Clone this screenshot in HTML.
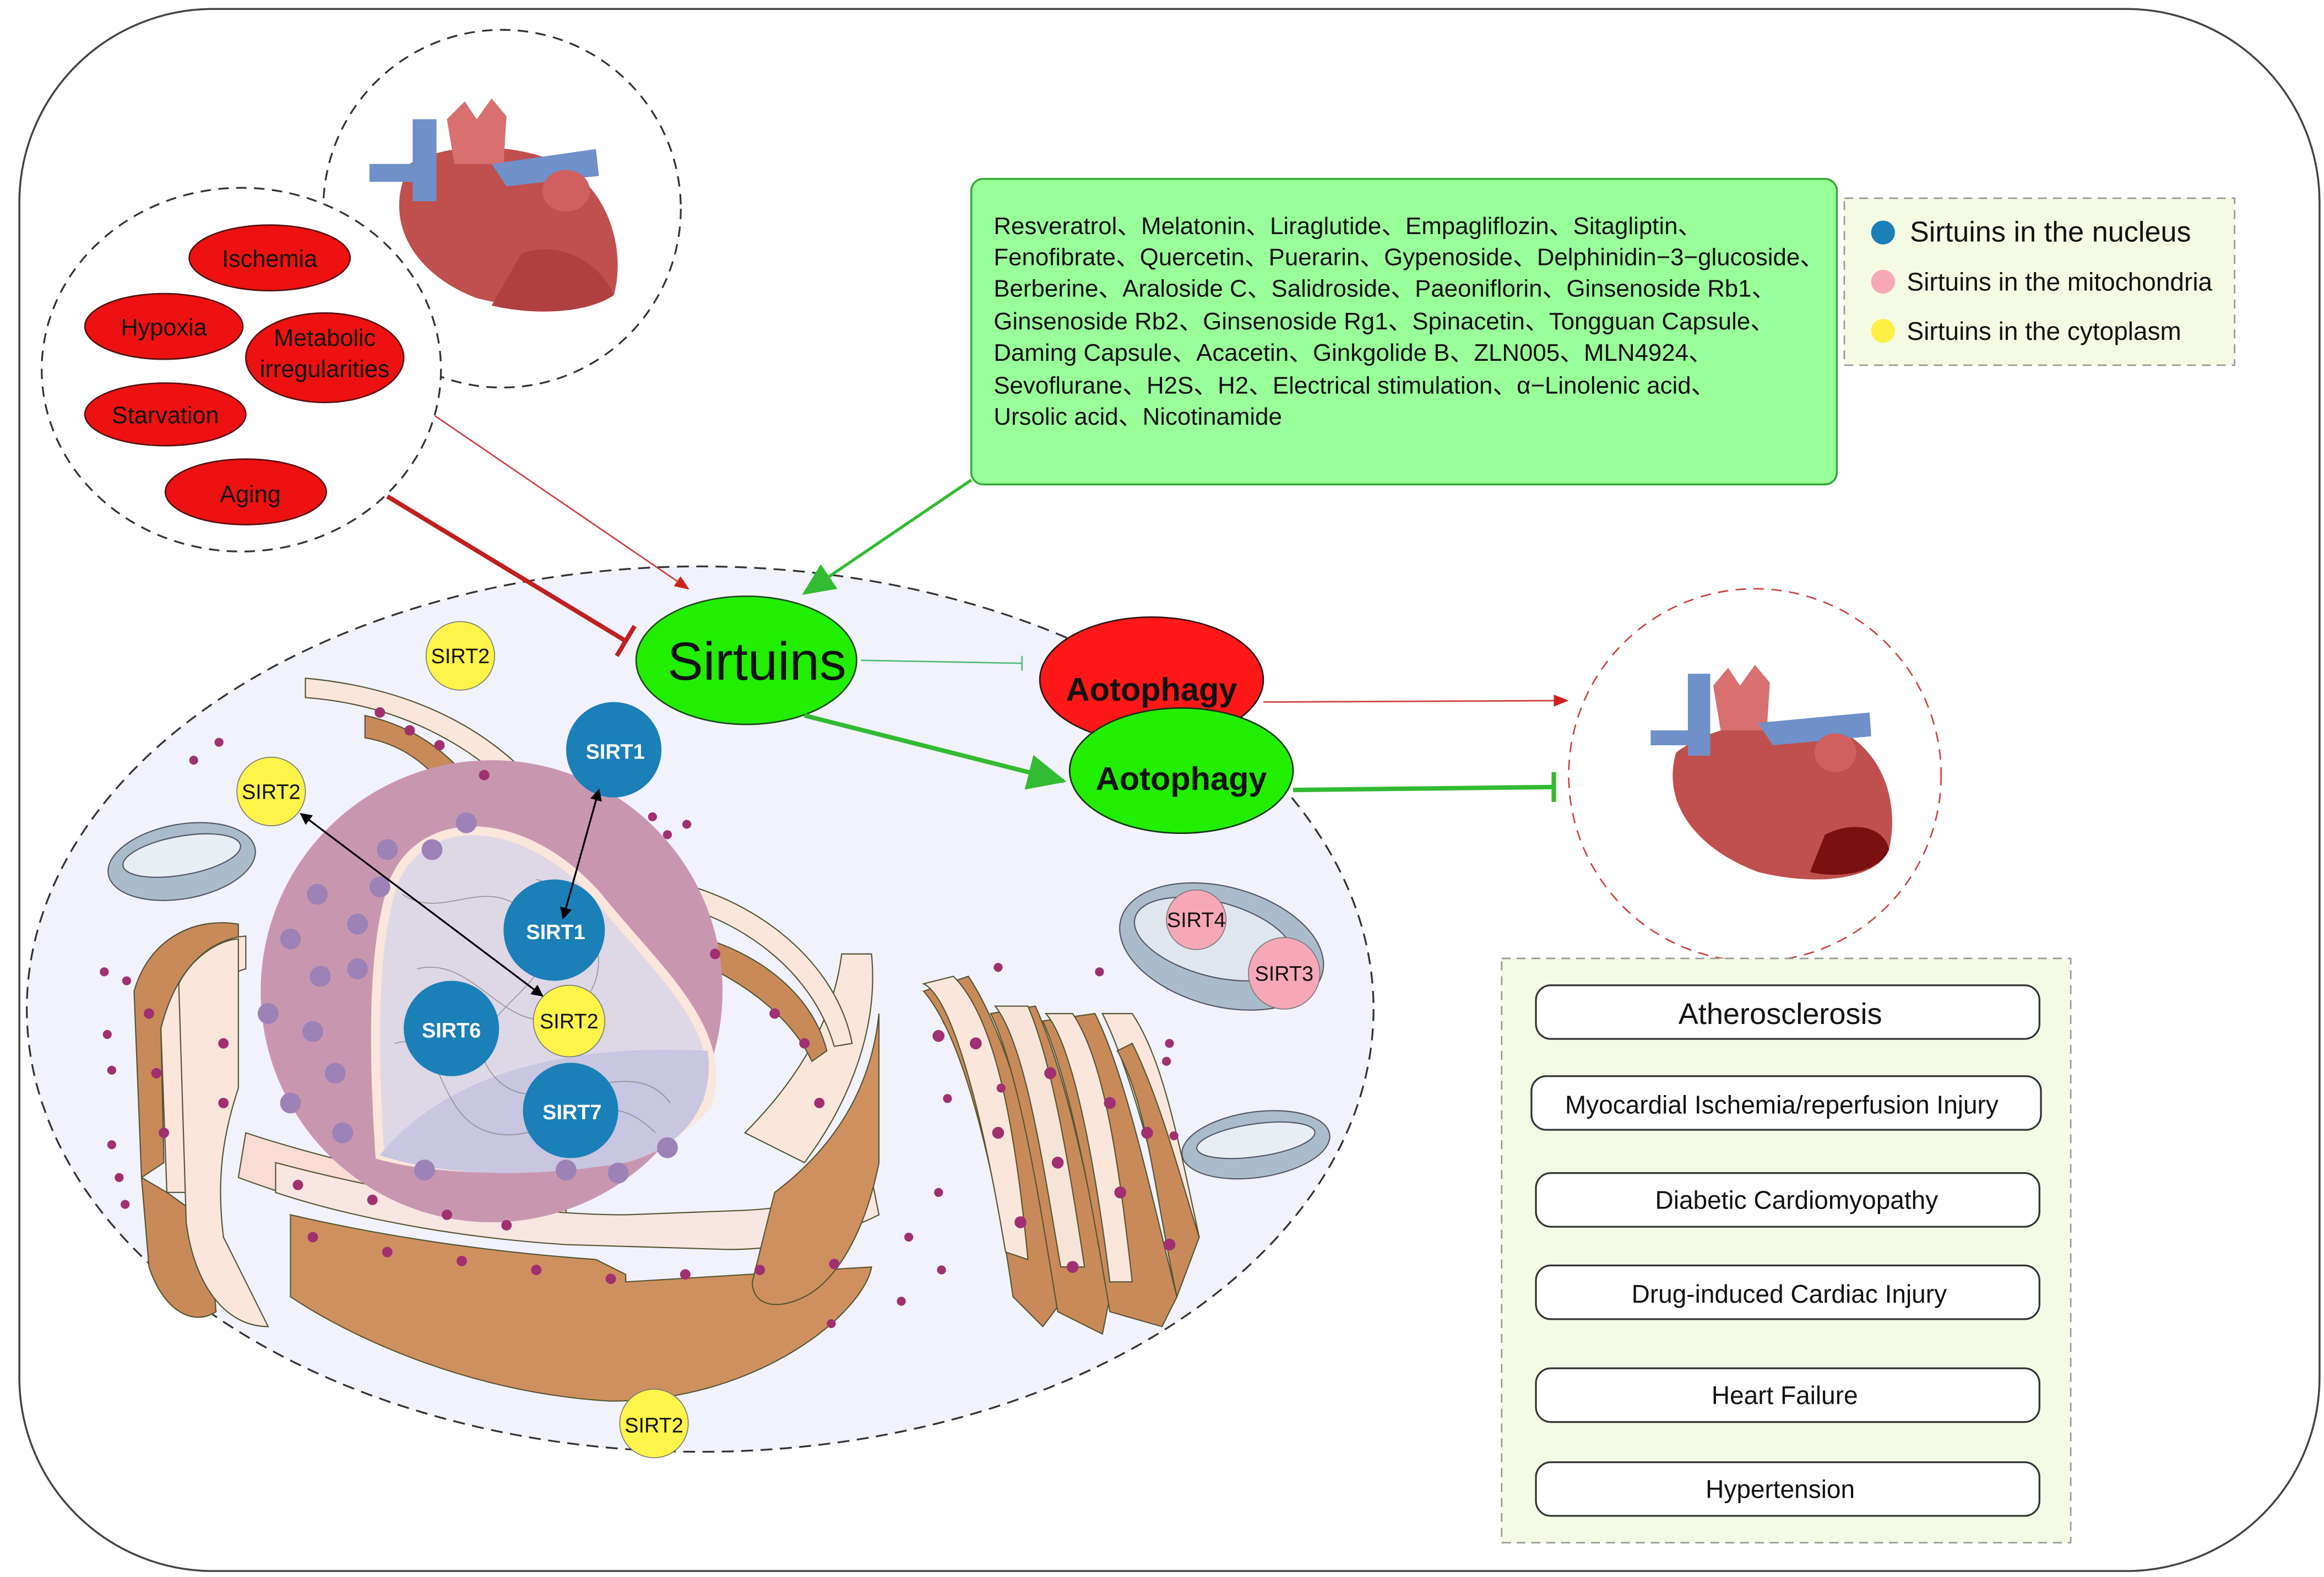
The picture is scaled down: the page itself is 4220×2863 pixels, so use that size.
<!DOCTYPE html>
<html><head><meta charset="utf-8"><style>
html,body{margin:0;padding:0;background:#fff;}
svg{display:block;}
text{font-family:"Liberation Sans",Arial,sans-serif;}
</style></head><body>
<svg width="4220" height="2863" viewBox="0 0 1560 1058" preserveAspectRatio="none" xmlns="http://www.w3.org/2000/svg">
<defs>
<marker id="ar" markerWidth="10" markerHeight="10" refX="9" refY="5" orient="auto" markerUnits="userSpaceOnUse"><path d="M0,1 L10,5 L0,9 z" fill="#d02020"/></marker>
<marker id="ak" markerWidth="8" markerHeight="8" refX="7" refY="4" orient="auto-start-reverse" markerUnits="userSpaceOnUse"><path d="M0,0 L8,4 L0,8 z" fill="#000"/></marker>
<marker id="ag" markerWidth="26" markerHeight="24" refX="24" refY="12" orient="auto" markerUnits="userSpaceOnUse"><path d="M0,0 L26,12 L0,24 z" fill="#33bb33"/></marker>
<marker id="ag2" markerWidth="22" markerHeight="20" refX="20" refY="10" orient="auto" markerUnits="userSpaceOnUse"><path d="M0,0 L22,10 L0,20 z" fill="#33bb33"/></marker>
</defs>
<rect width="1560" height="1058" fill="#fff"/>
<rect x="13" y="6" width="1544" height="1048" rx="130" fill="none" stroke="#444" stroke-width="1.3"/>

<!-- heart top circle -->
<circle cx="337" cy="140" r="120" fill="#fff" stroke="#333" stroke-dasharray="7,5" stroke-width="1.2"/>
<g>
<path d="M275,110 C255,150 280,185 320,200 C360,210 395,210 412,198 C420,170 410,130 380,112 C350,95 300,95 275,110z" fill="#c0504d"/>
<path d="M330,205 C360,212 395,210 412,198 C405,180 380,160 350,170z" fill="#b04040"/>
<rect x="277" y="80" width="16" height="55" fill="#6f90c8"/>
<rect x="248" y="110" width="40" height="12" fill="#6f90c8"/>
<path d="M300,80 L312,68 L320,80 L330,66 L340,78 L338,110 L305,110z" fill="#d87070"/>
<path d="M330,110 L400,100 L402,118 L340,125z" fill="#6f90c8"/>
<ellipse cx="380" cy="128" rx="16" ry="14" fill="#d06060"/>
</g>

<!-- stressors circle -->
<ellipse cx="162" cy="248" rx="134" ry="122" fill="#fff" stroke="#333" stroke-dasharray="7,5" stroke-width="1.2"/>
<g fill="#ee1111" stroke="#551111" stroke-width="1">
<ellipse cx="181" cy="173" rx="54" ry="22"/>
<ellipse cx="110" cy="219" rx="53" ry="22"/>
<ellipse cx="218" cy="240" rx="53" ry="30"/>
<ellipse cx="111" cy="278" rx="54" ry="21"/>
<ellipse cx="165" cy="330" rx="54" ry="22"/>
</g>
<g font-size="16" fill="#111" text-anchor="middle">
<text x="181" y="179">Ischemia</text>
<text x="110" y="225">Hypoxia</text>
<text x="218" y="232">Metabolic</text>
<text x="218" y="253">irregularities</text>
<text x="111" y="284">Starvation</text>
<text x="168" y="337">Aging</text>
</g>

<!-- green box -->
<rect x="652" y="120" width="581" height="205" rx="8" fill="#99ff99" stroke="#33aa33" stroke-width="1.3"/>
<g font-size="16.2" fill="#111">
<text x="667" y="157">Resveratrol、Melatonin、Liraglutide、Empagliflozin、Sitagliptin、</text>
<text x="667" y="178">Fenofibrate、Quercetin、Puerarin、Gypenoside、Delphinidin−3−glucoside、</text>
<text x="667" y="199">Berberine、Araloside C、Salidroside、Paeoniflorin、Ginsenoside Rb1、</text>
<text x="667" y="221">Ginsenoside Rb2、Ginsenoside Rg1、Spinacetin、Tongguan Capsule、</text>
<text x="667" y="242">Daming Capsule、Acacetin、Ginkgolide B、ZLN005、MLN4924、</text>
<text x="667" y="264">Sevoflurane、H2S、H2、Electrical stimulation、α−Linolenic acid、</text>
<text x="667" y="285">Ursolic acid、Nicotinamide</text>
</g>

<!-- legend -->
<rect x="1238" y="133" width="262" height="112" fill="#f5fbe2" stroke="#999" stroke-dasharray="6,4"/>
<circle cx="1264" cy="156" r="8" fill="#1b7fb8"/>
<circle cx="1264" cy="189" r="8" fill="#f7a8b8"/>
<circle cx="1264" cy="222" r="8" fill="#ffee44"/>
<g font-size="17" fill="#111">
<text x="1282" y="162" font-size="19.3">Sirtuins in the nucleus</text>
<text x="1280" y="195">Sirtuins in the mitochondria</text>
<text x="1280" y="228">Sirtuins in the cytoplasm</text>
</g>

<!-- cell -->
<ellipse cx="470" cy="677" rx="452" ry="297" fill="#f1f2fc" stroke="#333" stroke-dasharray="8,5" stroke-width="1.2"/>

<!-- ER/golgi bands left -->
<g stroke="#553" stroke-width="0.8">
<path d="M205,455 C260,460 330,480 375,545 L365,552 C320,495 260,472 205,468z" fill="#fbe6dc"/>
<path d="M245,480 C290,490 320,520 335,560 L320,565 C300,520 275,500 245,495z" fill="#c98a5a"/>
<path d="M90,665 C100,630 130,615 160,620 L160,640 C135,640 115,660 108,690 L110,780 L95,790z" fill="#c98a5a"/>
<path d="M108,690 C118,650 140,630 165,628 L165,650 C145,655 130,680 125,720 L130,800 L112,800z" fill="#fbe6dc"/>
<path d="M95,790 L100,850 C110,880 130,890 145,880 L140,820 L112,800z" fill="#c98a5a"/>
<path d="M120,660 C130,640 150,630 160,630 L160,730 C150,760 145,790 150,830 L180,890 C150,890 130,860 125,820z" fill="#fbe6dc"/>
<path d="M165,760 C240,785 330,800 380,812 L380,835 C320,830 240,820 160,790z" fill="#f9dcd4"/>
<path d="M195,815 C260,830 330,840 400,845 L420,855 L420,860 L585,850 C580,880 510,940 410,940 C320,935 240,900 195,870z" fill="#cf9060"/>
<path d="M185,780 C260,800 350,815 420,815 L500,812 C540,810 570,800 585,790 L590,815 C560,830 520,840 480,838 L380,835 C300,830 230,815 185,800z" fill="#f7e6e2"/>
<path d="M500,760 C540,720 560,680 565,640 L585,640 C590,690 570,740 540,780z" fill="#fbe6dc"/>
<path d="M520,800 C560,770 585,730 590,680 L590,780 C580,830 560,860 540,870 C520,880 505,875 505,860z" fill="#cf9060"/>
<path d="M445,590 C500,600 560,640 572,700 L560,702 C545,650 495,615 445,605z" fill="#fbe6dc"/>
<path d="M455,625 C505,635 545,665 555,705 L545,712 C530,680 495,655 455,640z" fill="#c98a5a"/>
</g>

<!-- nucleus -->
<circle cx="330" cy="665" r="155" fill="#c996b0"/>
<path d="M265,590 C285,545 350,545 400,600 C440,650 490,690 475,740 C440,790 310,790 255,775 C250,700 250,630 265,590z" fill="#ded7e6" stroke="#fbe6dc" stroke-width="6"/>
<path d="M255,775 C300,720 380,700 475,705 C480,740 460,770 420,780 C360,790 300,790 255,775z" fill="#c8c6e0"/>
<g fill="#9c82b6">
<circle cx="195" cy="630" r="7"/><circle cx="215" cy="655" r="7"/><circle cx="180" cy="680" r="7"/><circle cx="210" cy="692" r="7"/><circle cx="195" cy="740" r="7"/><circle cx="225" cy="720" r="7"/><circle cx="240" cy="620" r="7"/><circle cx="260" cy="570" r="7"/><circle cx="290" cy="570" r="7"/><circle cx="313" cy="552" r="7"/><circle cx="240" cy="650" r="7"/><circle cx="230" cy="760" r="7"/><circle cx="285" cy="785" r="7"/><circle cx="380" cy="785" r="7"/><circle cx="415" cy="787" r="7"/><circle cx="448" cy="770" r="7"/><circle cx="255" cy="595" r="7"/><circle cx="213" cy="600" r="7"/>
</g>
<g fill="none" stroke="#777" stroke-width="0.6" opacity="0.7">
<path d="M270,600 C300,620 330,580 360,620 C390,660 300,680 330,720 C360,760 420,700 450,740"/>
<path d="M280,650 C320,640 340,700 380,680 C420,660 400,600 360,590"/>
<path d="M265,700 C300,690 290,750 330,760 C370,770 400,720 440,760"/>
</g>

<!-- right golgi -->
<g stroke="#553" stroke-width="0.8">
<path d="M620,665 C650,700 670,800 680,870 L700,890 L715,870 C700,790 680,700 650,655z" fill="#c98a5a"/>
<path d="M620,660 C640,670 660,750 675,840 L690,845 C680,740 665,680 640,655z" fill="#fbe6dc"/>
<path d="M665,680 C685,720 700,820 710,880 L740,895 L745,870 C730,790 715,720 695,675z" fill="#c98a5a"/>
<path d="M668,675 C688,700 700,780 712,850 L728,850 C716,770 705,710 690,675z" fill="#f6e4d8"/>
<path d="M700,685 C720,730 735,820 745,880 L780,890 L790,870 C770,790 755,720 735,680z" fill="#c98a5a"/>
<path d="M702,680 C720,700 735,780 745,860 L760,860 C750,770 740,710 720,680z" fill="#fbe6dc"/>
<path d="M740,680 C760,720 780,800 790,850 L805,830 C790,760 780,710 760,680z" fill="#fbe6dc"/>
<path d="M760,700 C780,740 795,800 805,830 L790,870 C775,800 770,740 750,705z" fill="#c98a5a"/>
</g>

<!-- mitochondria -->
<g stroke="#556" stroke-width="0.8">
<ellipse cx="122" cy="578" rx="50" ry="25" fill="#aabccc" transform="rotate(-10 122 578)"/>
<ellipse cx="122" cy="574" rx="40" ry="13" fill="#e8eef4" transform="rotate(-10 122 574)"/>
<ellipse cx="820" cy="635" rx="70" ry="40" fill="#aabccc" transform="rotate(15 820 635)"/>
<ellipse cx="815" cy="630" rx="55" ry="25" fill="#dfe6ee" transform="rotate(15 815 630)"/>
<ellipse cx="843" cy="768" rx="50" ry="22" fill="#aabccc" transform="rotate(-8 843 768)"/>
<ellipse cx="843" cy="765" rx="40" ry="11" fill="#e8eef4" transform="rotate(-8 843 765)"/>
</g>

<!-- dots -->
<g fill="#a03070">
<circle cx="130" cy="510" r="3"/><circle cx="147" cy="498" r="3"/><circle cx="70" cy="652" r="3"/><circle cx="85" cy="658" r="3"/><circle cx="72" cy="694" r="3"/><circle cx="75" cy="718" r="3"/><circle cx="75" cy="768" r="3"/><circle cx="80" cy="790" r="3"/><circle cx="84" cy="808" r="3"/><circle cx="438" cy="548" r="3"/><circle cx="448" cy="560" r="3"/><circle cx="461" cy="553" r="3"/><circle cx="670" cy="649" r="3"/><circle cx="738" cy="652" r="3"/><circle cx="630" cy="800" r="3"/><circle cx="610" cy="830" r="3"/><circle cx="605" cy="873" r="3"/><circle cx="632" cy="852" r="3"/><circle cx="558" cy="888" r="3"/><circle cx="785" cy="700" r="3"/><circle cx="783" cy="712" r="3"/><circle cx="788" cy="762" r="3"/><circle cx="636" cy="737" r="3"/><circle cx="672" cy="730" r="3"/>
</g>
<g fill="#a03070">
<circle cx="255" cy="478" r="3.5"/><circle cx="275" cy="490" r="3.5"/><circle cx="295" cy="500" r="3.5"/><circle cx="325" cy="520" r="3.5"/><circle cx="100" cy="680" r="3.5"/><circle cx="105" cy="720" r="3.5"/><circle cx="110" cy="760" r="3.5"/><circle cx="150" cy="700" r="3.5"/><circle cx="150" cy="740" r="3.5"/><circle cx="210" cy="830" r="3.5"/><circle cx="260" cy="840" r="3.5"/><circle cx="310" cy="846" r="3.5"/><circle cx="360" cy="852" r="3.5"/><circle cx="410" cy="858" r="3.5"/><circle cx="460" cy="855" r="3.5"/><circle cx="510" cy="852" r="3.5"/><circle cx="560" cy="848" r="3.5"/><circle cx="200" cy="795" r="3.5"/><circle cx="250" cy="805" r="3.5"/><circle cx="300" cy="815" r="3.5"/><circle cx="340" cy="822" r="3.5"/><circle cx="540" cy="700" r="3.5"/><circle cx="550" cy="740" r="3.5"/><circle cx="480" cy="640" r="3.5"/><circle cx="520" cy="680" r="3.5"/><circle cx="655" cy="700" r="4"/><circle cx="670" cy="760" r="4"/><circle cx="685" cy="820" r="4"/><circle cx="705" cy="720" r="4"/><circle cx="710" cy="780" r="4"/><circle cx="720" cy="850" r="4"/><circle cx="745" cy="740" r="4"/><circle cx="752" cy="800" r="4"/><circle cx="770" cy="760" r="4"/><circle cx="785" cy="835" r="4"/><circle cx="630" cy="695" r="4"/>
</g>

<!-- SIRT nodes -->
<g stroke="#777" stroke-width="0.6">
<circle cx="309" cy="440" r="23" fill="#fff44a"/>
<circle cx="182" cy="531" r="23" fill="#fff44a"/>
<circle cx="382" cy="685" r="24" fill="#fff44a"/>
<circle cx="439" cy="955" r="23" fill="#fff44a"/>
<circle cx="412" cy="503" r="32" fill="#1b7fb8" stroke="none"/>
<circle cx="372" cy="624" r="34" fill="#1b7fb8" stroke="none"/>
<circle cx="303" cy="690" r="32" fill="#1b7fb8" stroke="none"/>
<circle cx="383" cy="745" r="32" fill="#1b7fb8" stroke="none"/>
<circle cx="803" cy="617" r="20" fill="#f7a8b8"/>
<circle cx="862" cy="653" r="24" fill="#f7a8b8"/>
</g>
<g font-size="14" text-anchor="middle" fill="#111">
<text x="309" y="445">SIRT2</text>
<text x="182" y="536">SIRT2</text>
<text x="382" y="690">SIRT2</text>
<text x="439" y="961">SIRT2</text>
<text x="803" y="622">SIRT4</text>
<text x="862" y="658">SIRT3</text>
</g>
<g font-size="14" text-anchor="middle" fill="#fff" font-weight="bold">
<text x="413" y="509">SIRT1</text>
<text x="373" y="630">SIRT1</text>
<text x="303" y="696">SIRT6</text>
<text x="384" y="751">SIRT7</text>
</g>
<line x1="202" y1="546" x2="364" y2="668" stroke="#000" stroke-width="1.2" marker-start="url(#ak)" marker-end="url(#ak)"/>
<line x1="402" y1="530" x2="378" y2="616" stroke="#000" stroke-width="1.2" marker-start="url(#ak)" marker-end="url(#ak)"/>

<!-- Sirtuins & autophagy -->
<ellipse cx="501" cy="443" rx="74" ry="43" fill="#22ee00" stroke="#224422" stroke-width="1"/>
<text x="508" y="456" font-size="36" text-anchor="middle" fill="#111">Sirtuins</text>
<ellipse cx="773" cy="456" rx="75" ry="42" fill="#ff1818" stroke="#331111" stroke-width="1"/>
<text x="773" y="470" font-size="22" font-weight="bold" text-anchor="middle" fill="#111">Aotophagy</text>
<ellipse cx="793" cy="517" rx="75" ry="42" fill="#22ee00" stroke="#113311" stroke-width="1"/>
<text x="793" y="530" font-size="22" font-weight="bold" text-anchor="middle" fill="#111">Aotophagy</text>

<!-- arrows -->
<line x1="292" y1="279" x2="462" y2="395" stroke="#d04040" stroke-width="1" marker-end="url(#ar)"/>
<line x1="260" y1="333" x2="420" y2="430" stroke="#c02020" stroke-width="3"/>
<line x1="414" y1="440" x2="426" y2="420" stroke="#c02020" stroke-width="3"/>
<line x1="652" y1="322" x2="540" y2="398" stroke="#33bb33" stroke-width="2" marker-end="url(#ag2)"/>
<line x1="578" y1="443" x2="686" y2="445" stroke="#55bb77" stroke-width="1"/>
<line x1="686" y1="440" x2="686" y2="450" stroke="#55bb77" stroke-width="1"/>
<line x1="540" y1="480" x2="714" y2="524" stroke="#33bb33" stroke-width="3" marker-end="url(#ag)"/>
<line x1="848" y1="471" x2="1052" y2="470" stroke="#d04040" stroke-width="1" marker-end="url(#ar)"/>
<line x1="868" y1="530" x2="1043" y2="528" stroke="#33bb33" stroke-width="3"/>
<line x1="1043" y1="518" x2="1043" y2="538" stroke="#33bb33" stroke-width="3"/>

<!-- right heart -->
<circle cx="1178" cy="520" r="125" fill="#fff" stroke="#d04040" stroke-dasharray="7,5" stroke-width="1"/>
<g>
<path d="M1125,505 C1115,540 1140,570 1180,585 C1220,595 1260,590 1268,570 C1275,540 1265,505 1235,490 C1200,478 1150,485 1125,505z" fill="#c0504d"/>
<path d="M1215,585 C1235,590 1262,585 1268,570 C1265,555 1245,550 1225,560z" fill="#7a1010"/>
<rect x="1133" y="452" width="15" height="55" fill="#6f90c8"/>
<rect x="1108" y="490" width="35" height="10" fill="#6f90c8"/>
<path d="M1150,460 L1160,448 L1168,460 L1178,446 L1188,458 L1186,490 L1155,490z" fill="#d87070"/>
<path d="M1180,485 L1255,478 L1256,494 L1190,500z" fill="#6f90c8"/>
<ellipse cx="1232" cy="505" rx="14" ry="13" fill="#d06060"/>
</g>

<!-- disease box -->
<rect x="1008" y="643" width="382" height="392" fill="#f4fbe4" stroke="#999" stroke-dasharray="6,4"/>
<g fill="#fff" stroke="#333" stroke-width="1.2">
<rect x="1031" y="661" width="338" height="36" rx="10"/>
<rect x="1028" y="722" width="342" height="36" rx="10"/>
<rect x="1031" y="787" width="338" height="36" rx="10"/>
<rect x="1031" y="849" width="338" height="36" rx="10"/>
<rect x="1031" y="918" width="338" height="36" rx="10"/>
<rect x="1031" y="981" width="338" height="36" rx="10"/>
</g>
<g text-anchor="middle" fill="#111" font-size="17">
<text x="1195" y="687" font-size="20">Atherosclerosis</text>
<text x="1196" y="747">Myocardial Ischemia/reperfusion Injury</text>
<text x="1206" y="811">Diabetic Cardiomyopathy</text>
<text x="1201" y="874">Drug-induced Cardiac Injury</text>
<text x="1198" y="942">Heart Failure</text>
<text x="1195" y="1005">Hypertension</text>
</g>
</svg>
</body></html>
